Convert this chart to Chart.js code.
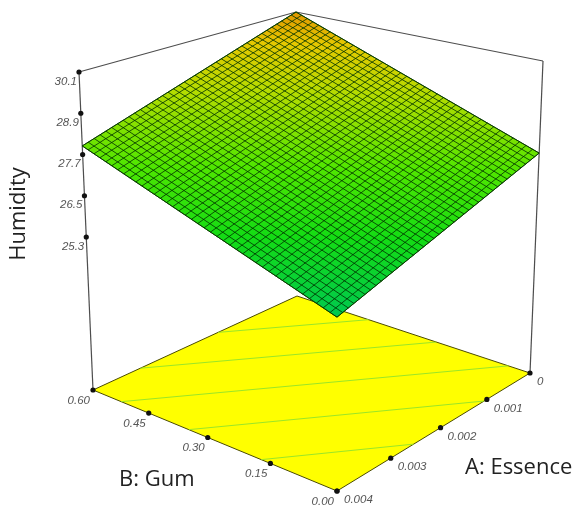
<!DOCTYPE html>
<html>
<head>
<meta charset="utf-8">
<title>Humidity</title>
<script src="https://cdn.jsdelivr.net/npm/chart.js@4"></script>
<style>
  body { margin: 0; background: #fff; }
  canvas { display: block; }
</style>
</head>
<body>
<canvas id="surfaceChart" width="574" height="506"></canvas>
<script>
// axis ticks
const essenceTicks = [0, 0.001, 0.002, 0.003, 0.004];
const essenceLabels = ['0', '0.001', '0.002', '0.003', '0.004'];
const gumTicks = [0.60, 0.45, 0.30, 0.15, 0.00];
const gumLabels = ['0.60', '0.45', '0.30', '0.15', '0.00'];
const humidityTicks = [30.1, 28.9, 27.7, 26.5, 25.3];
const humidityLabels = ['30.1', '28.9', '27.7', '26.5', '25.3'];

// surface corners (back, left, front, right)
const cornerEssence = [0, 0.004, 0.004, 0];
const cornerGum = [0.60, 0.60, 0, 0];
const cornerHumidity = [30.1, 27.95, 25.22, 27.37];

// contour levels on the floor
const contourLevels = [26.0, 26.8, 27.6, 28.4, 29.2];

// colour of the surface by humidity
const colorLevels = [25.2, 26.5, 27.6, 28.8, 29.6, 30.1];
const colorValues = ['#00c850', '#14dc14', '#50e600', '#b4dc00', '#e6c800', '#e09600'];

const humidityFloor = 20.85;
const meshCells = 40;

// where the box sits on the page (back, left, front, right)
const floorCorners = [[297, 296], [93, 390], [337, 491], [530, 373]];
const roofCorners = [[296, 12], [79, 72], [337, 123], [543, 61]];

// maps the unit square on a four cornered shape, keeps the perspective
function squareToQuad(q) {
    const dx1 = q[1][0] - q[2][0], dx2 = q[3][0] - q[2][0], dx3 = q[0][0] - q[1][0] + q[2][0] - q[3][0];
    const dy1 = q[1][1] - q[2][1], dy2 = q[3][1] - q[2][1], dy3 = q[0][1] - q[1][1] + q[2][1] - q[3][1];
    const den = dx1 * dy2 - dx2 * dy1;
    const g = (dx3 * dy2 - dx2 * dy3) / den;
    const h = (dx1 * dy3 - dx3 * dy1) / den;
    const a = q[1][0] - q[0][0] + g * q[1][0], b = q[3][0] - q[0][0] + h * q[3][0];
    const d = q[1][1] - q[0][1] + g * q[1][1], e = q[3][1] - q[0][1] + h * q[3][1];
    return function (u, v) {
        const w = g * u + h * v + 1;
        return { x: (a * u + b * v + q[0][0]) / w, y: (d * u + e * v + q[0][1]) / w };
    };
}

const floorMap = squareToQuad(floorCorners);
const roofMap = squareToQuad(roofCorners);
const zMax = humidityTicks[0];

function toU(essence) { return essence / essenceTicks[4]; }
function toV(gum) { return 1 - gum / gumTicks[0]; }

function project(essence, gum, humidity) {
    const p0 = floorMap(toU(essence), toV(gum));
    const p1 = roofMap(toU(essence), toV(gum));
    const t = (humidity - humidityFloor) / (zMax - humidityFloor);
    return { x: p0.x + (p1.x - p0.x) * t, y: p0.y + (p1.y - p0.y) * t };
}

const surfacePoints = cornerHumidity.map((h, i) => project(cornerEssence[i], cornerGum[i], h));
const surfaceMap = squareToQuad(surfacePoints.map(p => [p.x, p.y]));

function lineSet(points, color, width) {
    return {
        data: points, showLine: true, pointRadius: 0, tension: 0,
        borderColor: color, borderWidth: width, fill: false
    };
}

function polygonSet(points, background, edge) {
    return {
        data: points.concat([points[0]]), showLine: true, pointRadius: 0, tension: 0,
        borderColor: edge, borderWidth: 1, fill: 'shape', backgroundColor: background
    };
}

function dotSet(points) {
    return {
        data: points, showLine: false, pointRadius: 2.6, pointBackgroundColor: '#111',
        pointBorderWidth: 0
    };
}

// where a humidity level crosses the edge of the square
function contourEnds(level) {
    const ends = [];
    const uv = [[0, 0], [1, 0], [1, 1], [0, 1]];
    for (let i = 0; i < 4; i++) {
        const j = (i + 1) % 4;
        const h0 = cornerHumidity[i], h1 = cornerHumidity[j];
        if ((h0 - level) * (h1 - level) < 0) {
            const s = (level - h0) / (h1 - h0);
            ends.push(floorMap(uv[i][0] + (uv[j][0] - uv[i][0]) * s, uv[i][1] + (uv[j][1] - uv[i][1]) * s));
        }
    }
    return ends;
}

function surfaceFill(context) {
    // scale units are page pixels here, the gradient runs across the level lines of the surface
    const high = surfacePoints[0], low = surfacePoints[2];
    const left = surfacePoints[1], right = surfacePoints[3];
    const len = Math.hypot(right.x - left.x, right.y - left.y);
    const nx = -(right.y - left.y) / len, ny = (right.x - left.x) / len;
    const span = (low.x - high.x) * nx + (low.y - high.y) * ny;
    const gradient = context.chart.ctx.createLinearGradient(
        high.x, high.y, high.x + nx * span, high.y + ny * span);
    const top = cornerHumidity[0], bottom = cornerHumidity[2];
    colorLevels.forEach((level, i) => {
        const stop = Math.min(1, Math.max(0, (top - level) / (top - bottom)));
        gradient.addColorStop(stop, colorValues[i]);
    });
    return gradient;
}

// painted back to front, first dataset in this list goes underneath
let layers = [];

const floorPoints = floorCorners.map((c, i) => project(cornerEssence[i], cornerGum[i], humidityFloor));
layers.push(polygonSet(floorPoints, '#ffff00', '#4a4a00'));

contourLevels.forEach(level => {
    layers.push(lineSet(contourEnds(level), '#9be628', 1));
});

// box edges
const boxColor = '#4d4d4d';
layers.push(lineSet([project(0.004, 0.60, humidityFloor), project(0.004, 0.60, zMax)], boxColor, 1.2));
layers.push(lineSet([project(0, 0, humidityFloor), project(0, 0, zMax)], boxColor, 1.2));
layers.push(lineSet([project(0.004, 0.60, zMax), project(0, 0.60, zMax), project(0, 0, zMax)], boxColor, 1.2));

layers.push(polygonSet(surfacePoints, surfaceFill, '#1f5a00'));

for (let i = 0; i <= meshCells; i++) {
    const s = i / meshCells;
    layers.push(lineSet([surfaceMap(s, 0), surfaceMap(s, 1)], 'rgba(0,50,0,0.8)', 1));
    layers.push(lineSet([surfaceMap(0, s), surfaceMap(1, s)], 'rgba(0,50,0,0.8)', 1));
}

const humidityDots = humidityTicks.map(h => project(0.004, 0.60, h));
const gumDots = gumTicks.map(g => project(0.004, g, humidityFloor));
const essenceDots = essenceTicks.map(e => project(e, 0, humidityFloor));
layers.push(dotSet(humidityDots));
layers.push(dotSet(gumDots));
layers.push(dotSet(essenceDots));

// chart.js paints the first dataset on top
layers.reverse();

const axisText = {
    id: 'axisText',
    afterDatasetsDraw(chart) {
        const ctx = chart.ctx;
        const xs = chart.scales.x, ys = chart.scales.y;
        ctx.save();
        ctx.fillStyle = '#555';
        ctx.font = 'italic 11.5px "Liberation Sans"';
        ctx.textBaseline = 'middle';

        ctx.textAlign = 'right';
        humidityDots.forEach((p, i) => {
            ctx.fillText(humidityLabels[i], xs.getPixelForValue(p.x) - 2, ys.getPixelForValue(p.y) + 9.5);
        });
        gumDots.forEach((p, i) => {
            ctx.fillText(gumLabels[i], xs.getPixelForValue(p.x) - 3, ys.getPixelForValue(p.y) + 10.5);
        });
        ctx.textAlign = 'left';
        essenceDots.forEach((p, i) => {
            ctx.fillText(essenceLabels[i], xs.getPixelForValue(p.x) + 7, ys.getPixelForValue(p.y) + 9);
        });

        ctx.fillStyle = '#222';
        ctx.font = '22px "Open Sans"';
        ctx.textAlign = 'left';
        ctx.fillText('B: Gum', 119, 480);
        ctx.fillText('A: Essence', 465, 468);
        ctx.translate(19, 214);
        ctx.rotate(-Math.PI / 2);
        ctx.textAlign = 'center';
        ctx.fillText('Humidity', 0, 0);
        ctx.restore();
    }
};

new Chart(document.getElementById('surfaceChart'), {
    type: 'scatter',
    data: { datasets: layers },
    plugins: [axisText],
    options: {
        responsive: false,
        animation: false,
        layout: { padding: 0, autoPadding: false },
        plugins: { legend: { display: false }, tooltip: { enabled: false } },
        scales: {
            x: { type: 'linear', display: false, min: 0, max: 574 },
            y: { type: 'linear', display: false, min: 0, max: 506, reverse: true }
        }
    }
});
</script>
</body>
</html>
